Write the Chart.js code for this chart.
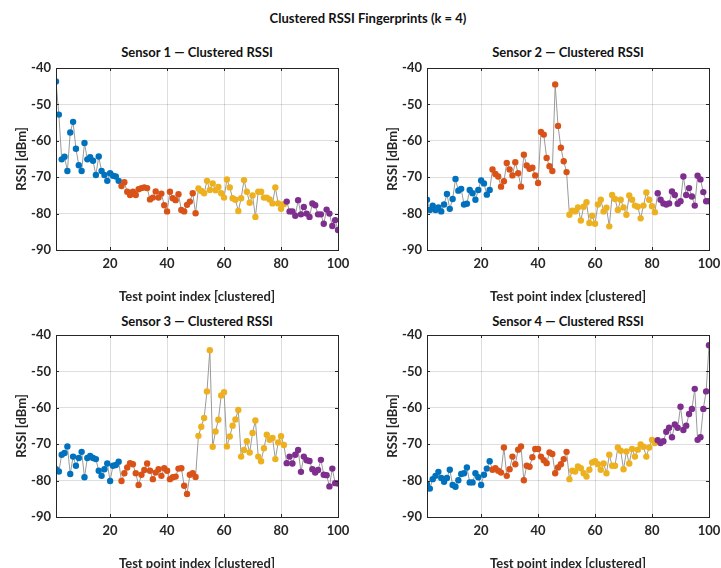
<!DOCTYPE html>
<html>
<head>
<meta charset="utf-8">
<script src="https://cdn.jsdelivr.net/npm/chart.js@4.4.1/dist/chart.umd.min.js"></script>
<style>
  body { margin: 0; background: #fff; width: 721px; height: 568px; position: relative; overflow: hidden; font-family: Lato, 'Open Sans', sans-serif; }
  .txt { position: absolute; font-weight: bold; font-size: 13px; color: #111; text-align: center; white-space: nowrap; }
  .box { position: absolute; width: 350px; height: 250px; }
</style>
</head>
<body>

<div class="txt" style="left:0; width:736px; top:10px;">Clustered RSSI Fingerprints (k = 4)</div>
<div class="txt" style="left:56px; width:282px; top:44px;">Sensor 1 — Clustered RSSI</div>
<div class="txt" style="left:427px; width:282px; top:44px;">Sensor 2 — Clustered RSSI</div>
<div class="txt" style="left:56px; width:282px; top:313px;">Sensor 3 — Clustered RSSI</div>
<div class="txt" style="left:427px; width:282px; top:313px;">Sensor 4 — Clustered RSSI</div>

<div class="box" style="left:0; top:60px;"><canvas id="s1"></canvas></div>
<div class="box" style="left:371px; top:60px;"><canvas id="s2"></canvas></div>
<div class="box" style="left:0; top:327px;"><canvas id="s3"></canvas></div>
<div class="box" style="left:371px; top:327px;"><canvas id="s4"></canvas></div>

<script>
// ---------------- datos ----------------
const xTicks = [20, 40, 60, 80, 100];
const yTicks = [-40, -50, -60, -70, -80, -90];

// tamaños de cada cluster (en orden de índice)
const clusterSizes = [23, 27, 31, 19];
const clusterColors = ["#0072BD", "#D95319", "#EDB120", "#7E2F8E"];

const sensor1 = [
  -43.7, -52.8, -65.1, -64.4, -68.3, -57.7, -54.8, -62.2, -66.7, -68.3,
  -60.6, -65.1, -64.5, -65.5, -69.4, -64.3, -68.3, -69.4, -71.0, -68.9,
  -69.6, -69.8, -71.0, -72.4, -71.4, -74.0, -74.9, -74.0, -74.9, -73.3,
  -73.0, -72.8, -73.0, -76.1, -75.6, -73.9, -75.6, -74.5, -77.7, -79.4,
  -74.0, -75.8, -76.3, -74.7, -79.0, -79.4, -77.6, -76.7, -74.4, -79.9,
  -73.1, -73.8, -74.4, -71.0, -73.5, -71.7, -73.6, -72.7, -74.4, -75.6,
  -70.6, -72.8, -75.8, -76.2, -79.3, -75.8, -70.8, -74.0, -77.0, -75.0,
  -80.9, -74.0, -74.0, -75.6, -75.6, -76.1, -77.2, -72.8, -77.2, -78.7,
  -77.4, -76.7, -79.4, -79.4, -80.6, -76.3, -80.2, -78.2, -80.0, -80.9,
  -77.2, -77.7, -80.2, -80.2, -82.8, -78.9, -80.0, -83.4, -81.8, -84.5
];

const sensor2 = [
  -76.2, -79.0, -77.8, -79.0, -78.3, -79.4, -77.5, -74.6, -78.7, -76.0,
  -70.5, -73.7, -73.2, -77.5, -77.3, -73.5, -74.4, -76.2, -73.5, -70.9,
  -71.7, -74.8, -73.5, -67.9, -69.1, -69.8, -72.6, -71.1, -66.1, -67.9,
  -69.5, -65.9, -68.9, -72.6, -63.8, -66.8, -67.7, -67.4, -69.5, -71.6,
  -57.6, -58.3, -64.7, -67.0, -68.3, -44.5, -55.9, -61.9, -65.6, -68.6,
  -80.3, -79.2, -79.4, -78.3, -81.9, -78.1, -76.9, -82.6, -80.6, -82.8,
  -77.5, -76.2, -79.4, -78.4, -83.5, -74.9, -76.0, -79.0, -76.2, -78.3,
  -80.3, -75.0, -76.2, -77.8, -78.1, -81.3, -77.8, -74.2, -76.2, -78.0,
  -79.6, -74.4, -76.2, -77.2, -77.5, -77.2, -73.9, -74.9, -77.3, -76.6,
  -69.8, -74.9, -73.0, -75.3, -77.8, -69.6, -70.6, -74.1, -76.6, -76.6
];

const sensor3 = [
  -76.9, -77.5, -72.9, -72.4, -70.6, -78.2, -73.4, -75.9, -73.8, -72.1,
  -79.1, -73.8, -73.2, -73.8, -74.1, -77.3, -78.7, -76.9, -75.3, -80.1,
  -75.9, -75.7, -74.8, -80.1, -78.0, -76.4, -75.2, -75.5, -78.0, -81.2,
  -78.4, -77.1, -75.3, -77.3, -79.6, -77.8, -76.9, -78.7, -76.6, -77.3,
  -79.6, -79.1, -78.9, -76.7, -76.6, -81.4, -83.7, -78.4, -78.0, -79.0,
  -67.7, -65.2, -62.8, -55.5, -44.2, -70.7, -66.5, -63.3, -56.6, -55.7,
  -70.6, -67.9, -64.9, -63.2, -60.6, -73.4, -71.6, -69.2, -72.3, -66.9,
  -63.5, -73.4, -74.7, -71.1, -67.4, -68.8, -68.3, -74.1, -69.5, -67.8,
  -70.2, -75.2, -73.4, -75.3, -72.9, -71.6, -77.6, -73.4, -74.4, -74.6,
  -76.9, -77.8, -77.1, -74.3, -78.4, -78.5, -81.6, -76.7, -80.7, -80.8
];

const sensor4 = [
  -81.0, -82.2, -79.6, -78.7, -77.6, -79.3, -80.3, -79.3, -77.0, -81.2,
  -81.7, -79.9, -78.2, -78.0, -76.4, -80.5, -80.5, -78.0, -79.1, -81.2,
  -78.4, -76.7, -74.7, -77.0, -76.6, -77.3, -77.8, -70.9, -78.7, -76.9,
  -73.4, -75.5, -71.5, -70.6, -79.9, -75.9, -76.2, -73.6, -71.3, -71.3,
  -73.4, -74.4, -75.2, -72.3, -72.7, -78.0, -76.4, -75.5, -74.1, -72.1,
  -79.6, -77.3, -77.5, -76.1, -76.6, -78.0, -78.9, -77.0, -75.0, -74.7,
  -75.5, -77.0, -75.3, -78.0, -72.9, -75.9, -75.9, -70.9, -71.8, -76.9,
  -72.0, -75.3, -71.3, -73.4, -71.5, -70.1, -70.7, -73.4, -70.9, -68.8,
  -69.7, -68.9, -69.7, -69.2, -66.6, -65.5, -68.1, -64.6, -65.5, -59.7,
  -66.1, -64.9, -61.7, -60.3, -54.8, -68.8, -68.1, -60.3, -55.5, -42.8
];

// ---------------- utilidades ----------------
function coloresPuntos() {
  const out = [];
  clusterSizes.forEach((n, k) => {
    for (let i = 0; i < n; i++) out.push(clusterColors[k]);
  });
  return out;
}

// caja estilo MATLAB con ticks interiores
const cajaPlugin = {
  id: "caja",
  afterDraw(chart) {
    const { ctx, chartArea: a, scales } = chart;
    ctx.save();
    ctx.strokeStyle = "#262626";
    ctx.lineWidth = 1;
    ctx.beginPath();
    const t = 3;
    scales.x.ticks.forEach(tk => {
      const px = Math.round(scales.x.getPixelForValue(tk.value)) + 0.5;
      ctx.moveTo(px, a.bottom); ctx.lineTo(px, a.bottom - t);
      ctx.moveTo(px, a.top); ctx.lineTo(px, a.top + t);
    });
    scales.y.ticks.forEach(tk => {
      const py = Math.round(scales.y.getPixelForValue(tk.value)) + 0.5;
      ctx.moveTo(a.left, py); ctx.lineTo(a.left + t, py);
      ctx.moveTo(a.right, py); ctx.lineTo(a.right - t, py);
    });
    ctx.stroke();
    ctx.strokeRect(Math.round(a.left) + 0.5, Math.round(a.top) + 0.5,
      Math.round(a.right - a.left), Math.round(a.bottom - a.top));
    ctx.restore();
  }
};

Chart.defaults.font.family = "Lato, 'Open Sans', sans-serif";
Chart.defaults.font.size = 13;
Chart.defaults.color = "#262626";

function crearGrafico(id, valores) {
  new Chart(document.getElementById(id), {
    type: "line",
    data: {
      datasets: [{
        data: valores.map((v, i) => ({ x: i + 1, y: v })),
        borderColor: "#9a9a9a",
        borderWidth: 1,
        pointRadius: 3.2,
        pointBorderWidth: 0,
        pointBackgroundColor: coloresPuntos(),
        tension: 0
      }]
    },
    options: {
      responsive: true,
      maintainAspectRatio: false,
      animation: false,
      layout: { padding: { left: 10, top: 8, right: 12, bottom: 5 } },
      plugins: { legend: { display: false }, tooltip: { enabled: false } },
      scales: {
        x: {
          type: "linear",
          min: 1,
          max: 100,
          afterBuildTicks: s => { s.ticks = xTicks.map(v => ({ value: v })); },
          afterFit: s => { s.height = 55; s.paddingLeft = 0; s.paddingRight = 0; },
          grid: { color: "rgba(0,0,0,0.13)", drawTicks: false },
          border: { display: false },
          ticks: { padding: 6, font: { weight: "bold" }, maxRotation: 0 },
          title: {
            display: true,
            text: "Test point index [clustered]",
            font: { weight: "bold", size: 13 },
            padding: { top: 0, bottom: 0 }
          }
        },
        y: {
          min: -90,
          max: -40,
          afterBuildTicks: s => { s.ticks = yTicks.map(v => ({ value: v })); },
          afterFit: s => { s.width = 46; s.paddingTop = 0; s.paddingBottom = 0; },
          grid: { color: "rgba(0,0,0,0.13)", drawTicks: false },
          border: { display: false },
          ticks: { padding: 5, font: { weight: "bold" } },
          title: {
            display: true,
            text: "RSSI [dBm]",
            font: { weight: "bold", size: 13 },
            padding: { top: 4, bottom: 0 }
          }
        }
      }
    },
    plugins: [cajaPlugin]
  });
}

crearGrafico("s1", sensor1);
crearGrafico("s2", sensor2);
crearGrafico("s3", sensor3);
crearGrafico("s4", sensor4);
</script>
</body>
</html>
